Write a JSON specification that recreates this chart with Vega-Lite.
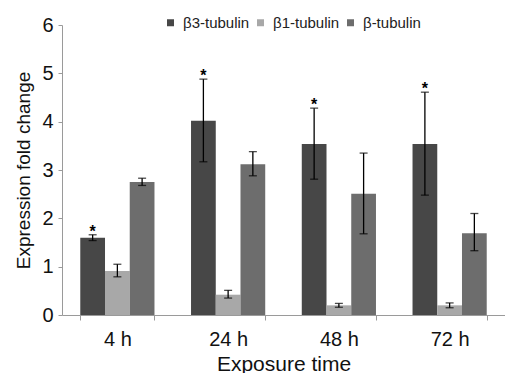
{
  "$schema": "https://vega.github.io/schema/vega-lite/v6.json",
  "autosize": {"type": "none"},
  "padding": {"left": 62, "top": 25, "right": 0, "bottom": 58},
  "width": 443,
  "height": 290,
  "background": "white",
  "config": {"view": {"stroke": null}, "font": "Liberation Sans"},
  "data": {
    "values": [
      {"time": "4 h", "gene": "β3-tubulin", "mean": 1.6, "lo": 1.54, "hi": 1.66, "star": "*"},
      {"time": "4 h", "gene": "β1-tubulin", "mean": 0.91, "lo": 0.79, "hi": 1.05, "star": ""},
      {"time": "4 h", "gene": "β-tubulin", "mean": 2.75, "lo": 2.68, "hi": 2.83, "star": ""},
      {"time": "24 h", "gene": "β3-tubulin", "mean": 4.02, "lo": 3.17, "hi": 4.88, "star": "*"},
      {"time": "24 h", "gene": "β1-tubulin", "mean": 0.42, "lo": 0.35, "hi": 0.51, "star": ""},
      {"time": "24 h", "gene": "β-tubulin", "mean": 3.12, "lo": 2.88, "hi": 3.38, "star": ""},
      {"time": "48 h", "gene": "β3-tubulin", "mean": 3.54, "lo": 2.81, "hi": 4.28, "star": "*"},
      {"time": "48 h", "gene": "β1-tubulin", "mean": 0.2, "lo": 0.16, "hi": 0.24, "star": ""},
      {"time": "48 h", "gene": "β-tubulin", "mean": 2.51, "lo": 1.68, "hi": 3.35, "star": ""},
      {"time": "72 h", "gene": "β3-tubulin", "mean": 3.54, "lo": 2.48, "hi": 4.61, "star": "*"},
      {"time": "72 h", "gene": "β1-tubulin", "mean": 0.2, "lo": 0.15, "hi": 0.25, "star": ""},
      {"time": "72 h", "gene": "β-tubulin", "mean": 1.69, "lo": 1.33, "hi": 2.1, "star": ""}
    ]
  },
  "encoding": {
    "x": {
      "field": "time", "type": "nominal", "sort": ["4 h", "24 h", "48 h", "72 h"],
      "scale": {"paddingInner": 0.33, "paddingOuter": 0.165},
      "axis": {
        "title": "Exposure time", "labelAngle": 0, "tickBand": "extent",
        "labelFontSize": 20, "titleFontSize": 21, "titleFontWeight": "normal",
        "labelColor": "#111", "titleColor": "#111",
        "domainColor": "#9a9a9a", "tickColor": "#9a9a9a", "tickSize": 5,
        "labelPadding": 9, "titlePadding": 4
      }
    },
    "xOffset": {"field": "gene", "type": "nominal", "sort": ["β3-tubulin", "β1-tubulin", "β-tubulin"], "scale": {"paddingInner": 0, "paddingOuter": 0}}
  },
  "layer": [
    {
      "mark": {"type": "bar"},
      "encoding": {
        "y": {
          "field": "mean", "type": "quantitative", "title": "Expression fold change",
          "scale": {"domain": [0, 6]},
          "axis": {
            "title": "Expression fold change", "tickCount": 6, "grid": false,
            "labelFontSize": 20, "titleFontSize": 19, "titleFontWeight": "normal",
            "labelColor": "#111", "titleColor": "#111",
            "domainColor": "#9a9a9a", "tickColor": "#9a9a9a", "tickSize": 4,
            "labelPadding": 5, "titlePadding": 8
          }
        },
        "color": {
          "field": "gene", "type": "nominal",
          "sort": ["β3-tubulin", "β1-tubulin", "β-tubulin"],
          "scale": {"domain": ["β3-tubulin", "β1-tubulin", "β-tubulin"], "range": ["#474747", "#a8a8a8", "#6d6d6d"]},
          "legend": {
            "title": null, "orient": "none", "direction": "horizontal",
            "legendX": 101, "legendY": -10,
            "symbolType": "square", "symbolSize": 49, "labelFontSize": 15,
            "labelColor": "#222", "labelOffset": 5, "columnPadding": 3
          }
        }
      }
    },
    {
      "mark": {"type": "errorbar", "color": "black", "ticks": {"size": 8, "thickness": 1.3}, "rule": {"strokeWidth": 1.3}},
      "encoding": {
        "y": {"field": "lo", "type": "quantitative", "title": "Expression fold change"},
        "y2": {"field": "hi"}
      }
    },
    {
      "mark": {"type": "text", "fontSize": 16, "fontWeight": "bold", "baseline": "alphabetic", "dy": 2, "color": "black"},
      "encoding": {
        "y": {"field": "hi", "type": "quantitative", "title": "Expression fold change"},
        "text": {"field": "star"}
      }
    }
  ]
}
